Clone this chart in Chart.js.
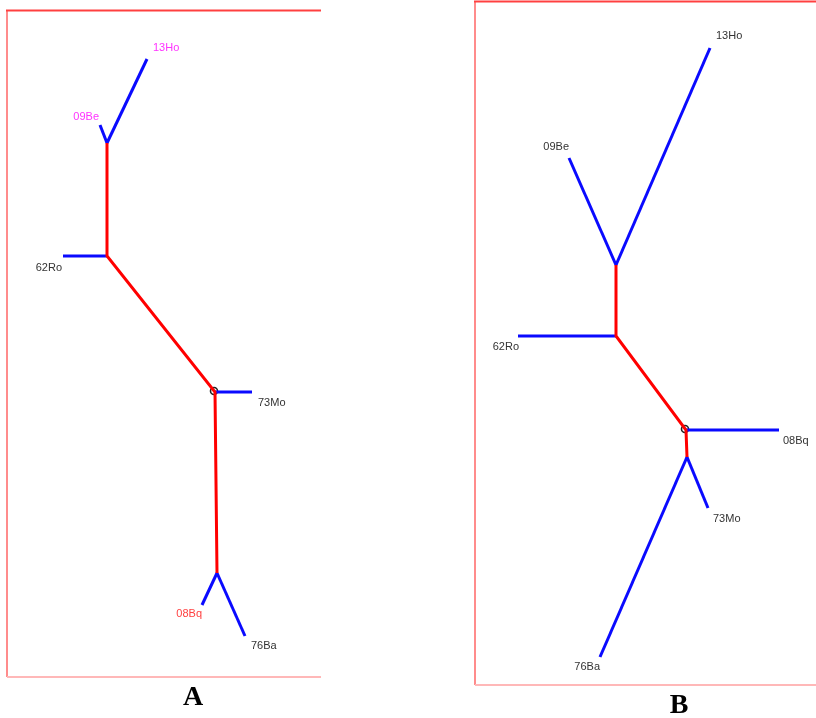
<!DOCTYPE html>
<html>
<head>
<meta charset="utf-8">
<script src="https://cdn.jsdelivr.net/npm/chart.js@4"></script>
<style>
html,body{margin:0;padding:0;background:#fff;}
#c{display:block;}
</style>
</head>
<body>
<canvas id="c" width="816" height="718"></canvas>
<script>
// Taxa (leaf labels)
const taxa = ['13Ho','09Be','62Ro','73Mo','08Bq','76Ba'];

// Panel A tree: leaf tips, internal nodes, leaf parents
const tipXA = [147, 100, 63, 252, 202, 245];
const tipYA = [59, 125, 256, 392, 605, 636];
const nodeXA = [107, 107, 215, 217];
const nodeYA = [143, 256, 392, 573];
const parentA = [0, 0, 1, 2, 3, 3];
const labelColorsA = ['#ff33ff', '#ff33ff', '#333333', '#333333', '#ff4040', '#333333'];

// Panel B tree
const tipXB = [710, 569, 518, 708, 779, 600];
const tipYB = [48, 158, 336, 508, 430, 657];
const nodeXB = [616, 616, 686, 687];
const nodeYB = [265, 336, 430, 457];
const parentB = [0, 0, 1, 3, 2, 3];
const labelColorsB = ['#333333', '#333333', '#333333', '#333333', '#333333', '#333333'];

const panelNames = ['A', 'B'];

// label placement (pixel offsets from tip, alignment)
const labelOffA = [[6,-11,'left'],[-1,-8,'right'],[-1,12,'right'],[6,11,'left'],[0,9,'right'],[6,10,'left']];
const labelOffB = [[6,-12,'left'],[0,-11,'right'],[1,11,'right'],[5,11,'left'],[4,11,'left'],[0,10,'right']];

const panels = [
  {tx: tipXA, ty: tipYA, nx: nodeXA, ny: nodeYA, par: parentA, col: labelColorsA, off: labelOffA,
   box: [7, 10.5, 321, 677], letter: [193, 698]},
  {tx: tipXB, ty: tipYB, nx: nodeXB, ny: nodeYB, par: parentB, col: labelColorsB, off: labelOffB,
   box: [475, 1.5, 817, 685], letter: [679, 706]}
];

const RED = '#ff0000', BLUE = '#0a0aff';
const datasets = [];
panels.forEach(p => {
  // internal (red) path
  datasets.push({
    data: p.nx.map((x, i) => ({x: x, y: p.ny[i]})),
    showLine: true, borderColor: RED, borderWidth: 3, pointRadius: 0, tension: 0
  });
  // terminal (blue) branches
  p.tx.forEach((x, i) => {
    const n = p.par[i];
    datasets.push({
      data: [{x: p.nx[n], y: p.ny[n]}, {x: x, y: p.ty[i]}],
      showLine: true, borderColor: BLUE, borderWidth: 3, pointRadius: 0, tension: 0
    });
  });
  // root marker circle at third node
  datasets.push({
    data: [{x: p.nx[2] - 1, y: p.ny[2] - 1}],
    showLine: false, pointStyle: 'circle', pointRadius: 3.5,
    pointBorderColor: '#222', pointBorderWidth: 1.6, pointBackgroundColor: 'rgba(0,0,0,0)'
  });
});

const decor = {
  id: 'decor',
  beforeDatasetsDraw(chart) {
    const ctx = chart.ctx, xs = chart.scales.x, ys = chart.scales.y;
    ctx.save();
    panels.forEach(p => {
      const [x0, y0, x1, y1] = p.box;
      const X0 = xs.getPixelForValue(x0), Y0 = ys.getPixelForValue(y0);
      const X1 = xs.getPixelForValue(x1), Y1 = ys.getPixelForValue(y1);
      ctx.lineWidth = 2; ctx.strokeStyle = '#ff8c8c';
      ctx.beginPath(); ctx.moveTo(X0, Y0); ctx.lineTo(X0, Y1); ctx.stroke();
      ctx.strokeStyle = '#ffb8b8';
      ctx.beginPath(); ctx.moveTo(X0, Y1); ctx.lineTo(X1, Y1); ctx.stroke();
      ctx.strokeStyle = '#ff4040';
      ctx.beginPath(); ctx.moveTo(X0 - 1, Y0); ctx.lineTo(X1, Y0); ctx.stroke();
    });
    ctx.restore();
  },
  afterDraw(chart) {
    const ctx = chart.ctx, xs = chart.scales.x, ys = chart.scales.y;
    ctx.save();
    ctx.font = '11px "Liberation Sans", Arial, sans-serif';
    ctx.textBaseline = 'middle';
    panels.forEach((p, pi) => {
      taxa.forEach((t, i) => {
        const o = p.off[i];
        ctx.fillStyle = p.col[i];
        ctx.textAlign = o[2];
        ctx.fillText(t, xs.getPixelForValue(p.tx[i]) + o[0], ys.getPixelForValue(p.ty[i]) + o[1]);
      });
      ctx.font = 'bold 28px "Liberation Serif", "Times New Roman", serif';
      ctx.fillStyle = '#000';
      ctx.textAlign = 'center';
      ctx.fillText(panelNames[pi], xs.getPixelForValue(p.letter[0]), ys.getPixelForValue(p.letter[1]));
      ctx.font = '11px "Liberation Sans", Arial, sans-serif';
    });
    ctx.restore();
  }
};

new Chart(document.getElementById('c'), {
  type: 'scatter',
  data: {datasets: datasets},
  options: {
    responsive: false, animation: false,
    layout: {padding: 0, autoPadding: false},
    plugins: {legend: {display: false}, tooltip: {enabled: false}},
    scales: {
      x: {type: 'linear', min: 0, max: 816, display: false},
      y: {type: 'linear', min: 0, max: 718, reverse: true, display: false}
    }
  },
  plugins: [decor]
});
</script>
</body>
</html>
